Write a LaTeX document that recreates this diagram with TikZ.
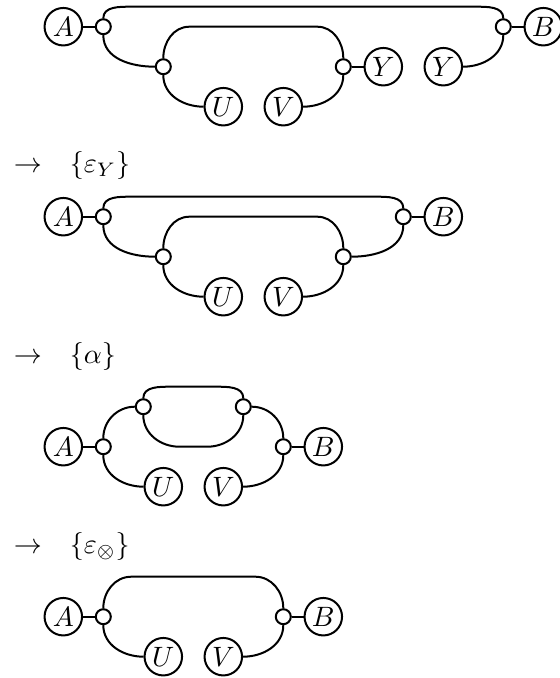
\RequirePackage{fix-cm}
\documentclass[tikz,border=0pt]{standalone}
\tikzset{
  obj/.style={circle,draw,thick,inner sep=0pt,minimum size=15pt},
  port/.style={circle,draw,thick,fill=white,inner sep=0pt,minimum size=6pt},
  wire/.style={thick},
  rulelabel/.style={anchor=west,inner sep=0pt},
}
\begin{document}
\begin{tikzpicture}[x=8pt,y=8pt,font=\fontsize{11.2}{13.4}\selectfont]
    \useasboundingbox (-3.165,-32.565) rectangle (24.835,1.335);
    % first diagram
    \node[obj] (a1) at (0,0) {$A$};
    \node[port] (p1) at (2,0) {};
    \node[port] (q1) at (5,-2) {};
    \node[obj] (u1) at (8,-4) {$U$};
    \node[obj] (v1) at (11,-4) {$V$};
    \node[port] (r1) at (14,-2) {};
    \node[obj] (y1) at (16,-2) {$Y$};
    \node[obj] (z1) at (19,-2) {$Y$};
    \node[port] (t1) at (22,0) {};
    \node[obj] (b1) at (24,0) {$B$};
    \coordinate (c1) at (3.4,1);
    \coordinate (d1) at (20.6,1);
    \coordinate (e1) at (6.3,0);
    \coordinate (f1) at (12.7,0);
    \draw[wire] (a1) -- (p1);
    \draw[wire] (p1.north) to[out=90,in=180] (c1) -- (d1) to[out=0,in=90] (t1.north);
    \draw[wire] (p1.south) to[out=-90,in=180] (q1.west);
    \draw[wire] (q1.north) to[out=90,in=180] (e1) -- (f1) to[out=0,in=90] (r1.north);
    \draw[wire] (q1.south) to[out=-90,in=180] (u1.west);
    \draw[wire] (v1.east) to[out=0,in=-90] (r1.south);
    \draw[wire] (r1) -- (y1);
    \draw[wire] (z1.east) to[out=0,in=-90] (t1.south);
    \draw[wire] (t1) -- (b1);
    % second diagram
    \begin{scope}[shift={(0,-9.5)}]
    \node[rulelabel] (l2) at (-2.5,2.585) {$\to$\quad$\{\varepsilon_Y\}$};
    \node[obj] (a2) at (0,0) {$A$};
    \node[port] (p2) at (2,0) {};
    \node[port] (q2) at (5,-2) {};
    \node[obj] (u2) at (8,-4) {$U$};
    \node[obj] (v2) at (11,-4) {$V$};
    \node[port] (r2) at (14,-2) {};
    \node[port] (t2) at (17,0) {};
    \node[obj] (b2) at (19,0) {$B$};
    \coordinate (c2) at (3.4,1);
    \coordinate (d2) at (15.6,1);
    \coordinate (e2) at (6.3,0);
    \coordinate (f2) at (12.7,0);
    \draw[wire] (a2) -- (p2);
    \draw[wire] (p2.north) to[out=90,in=180] (c2) -- (d2) to[out=0,in=90] (t2.north);
    \draw[wire] (p2.south) to[out=-90,in=180] (q2.west);
    \draw[wire] (q2.north) to[out=90,in=180] (e2) -- (f2) to[out=0,in=90] (r2.north);
    \draw[wire] (q2.south) to[out=-90,in=180] (u2.west);
    \draw[wire] (v2.east) to[out=0,in=-90] (r2.south);
    \draw[wire] (r2.east) to[out=0,in=-90] (t2.south);
    \draw[wire] (t2) -- (b2);
    \end{scope}
    % third diagram
    \begin{scope}[shift={(0,-21)}]
    \node[rulelabel] (l3) at (-2.5,4.5) {$\to$\quad$\{\alpha\}$};
    \node[obj] (a3) at (0,0) {$A$};
    \node[port] (p3) at (2,0) {};
    \node[port] (q3) at (4,2) {};
    \node[obj] (u3) at (5,-2) {$U$};
    \node[obj] (v3) at (8,-2) {$V$};
    \node[port] (r3) at (9,2) {};
    \node[port] (t3) at (11,0) {};
    \node[obj] (b3) at (13,0) {$B$};
    \coordinate (c3) at (5.4,3);
    \coordinate (d3) at (7.6,3);
    \coordinate (e3) at (5.8,0);
    \coordinate (f3) at (7.2,0);
    \draw[wire] (a3) -- (p3);
    \draw[wire] (p3.north) to[out=90,in=180] (q3.west);
    \draw[wire] (p3.south) to[out=-90,in=180] (u3.west);
    \draw[wire] (q3.north) to[out=90,in=180] (c3) -- (d3) to[out=0,in=90] (r3.north);
    \draw[wire] (q3.south) to[out=-90,in=180] (e3) -- (f3) to[out=0,in=-90] (r3.south);
    \draw[wire] (r3.east) to[out=0,in=90] (t3.north);
    \draw[wire] (v3.east) to[out=0,in=-90] (t3.south);
    \draw[wire] (t3) -- (b3);
    \end{scope}
    % fourth diagram
    \begin{scope}[shift={(0,-29.5)}]
    \node[rulelabel] (l4) at (-2.5,3.5) {$\to$\quad$\{\varepsilon_\otimes\}$};
    \node[obj] (a4) at (0,0) {$A$};
    \node[port] (p4) at (2,0) {};
    \node[obj] (u4) at (5,-2) {$U$};
    \node[obj] (v4) at (8,-2) {$V$};
    \node[port] (t4) at (11,0) {};
    \node[obj] (b4) at (13,0) {$B$};
    \coordinate (c4) at (3.4,2);
    \coordinate (d4) at (9.6,2);
    \draw[wire] (a4) -- (p4);
    \draw[wire] (p4.north) to[out=90,in=180] (c4) -- (d4) to[out=0,in=90] (t4.north);
    \draw[wire] (p4.south) to[out=-90,in=180] (u4.west);
    \draw[wire] (v4.east) to[out=0,in=-90] (t4.south);
    \draw[wire] (t4) -- (b4);
    \end{scope}
\end{tikzpicture}
\end{document}
